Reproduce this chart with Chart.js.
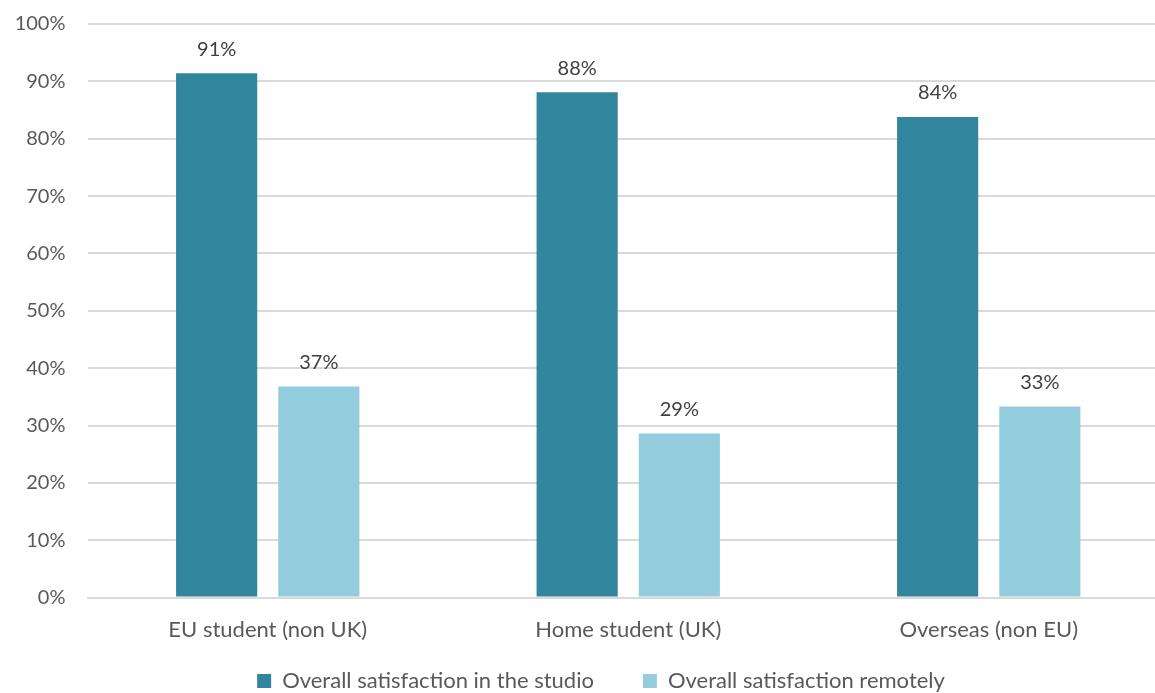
<!DOCTYPE html>
<html>
<head>
<meta charset="utf-8">
<script src="https://cdn.jsdelivr.net/npm/chart.js@4/dist/chart.umd.min.js"></script>
<style>
  html, body { margin: 0; padding: 0; background: #fff; overflow: hidden; }
  #wrap { position: relative; width: 1202px; height: 693px; }
</style>
</head>
<body>
<div id="wrap"><canvas id="myChart"></canvas></div>
<script>
const categories = ['EU student (non UK)', 'Home student (UK)', 'Overseas (non EU)'];
const studioValues = [91.4, 88.1, 83.8];
const remoteValues = [36.8, 28.6, 33.3];
const seriesNames = ['Overall satisfaction in the studio', 'Overall satisfaction remotely'];

const FONT = 'Lato, "Liberation Sans", sans-serif';
const LEGEND_GAP = 49;

// writes the rounded percentage above each bar
const barLabels = {
    id: 'barLabels',
    afterDatasetsDraw(chart) {
        const ctx = chart.ctx;
        ctx.save();
        ctx.font = '20px ' + FONT;
        ctx.fillStyle = '#404040';
        ctx.textAlign = 'center';
        ctx.textBaseline = 'bottom';
        chart.data.datasets.forEach((ds, i) => {
            chart.getDatasetMeta(i).data.forEach((bar, j) => {
                ctx.fillText(Math.round(ds.data[j]) + '%', bar.x, bar.y - 14);
            });
        });
        ctx.restore();
    }
};

// legend sits a bit right of the canvas centre and close to the bottom edge
const legendNudge = {
    id: 'legendNudge',
    afterLayout(chart) {
        const lg = chart.legend;
        lg.left += 16.5;
        lg.right += 16.5;
        lg.top = 670 - LEGEND_GAP;
        lg.bottom = chart.height;
        lg.height = lg.bottom - lg.top;
    }
};

window.onload = function() {
    const ctx = document.getElementById('myChart').getContext('2d');
    new Chart(ctx, {
        type: 'bar',
        data: {
            labels: categories,
            datasets: [{
                label: seriesNames[0],
                data: studioValues,
                backgroundColor: '#31859c',
                categoryPercentage: 0.567,
                barPercentage: 0.794
            }, {
                label: seriesNames[1],
                data: remoteValues,
                backgroundColor: '#93cddd',
                categoryPercentage: 0.567,
                barPercentage: 0.794
            }]
        },
        options: {
            responsive: true,
            maintainAspectRatio: false,
            animation: false,
            layout: { padding: { top: 24, right: 33, left: 0, bottom: 0 } },
            scales: {
                x: {
                    grid: { display: false, drawTicks: false },
                    border: { color: '#d9d9d9', width: 2 },
                    ticks: { color: '#595959', font: { family: FONT, size: 22 }, padding: 19 }
                },
                y: {
                    min: 0,
                    max: 100,
                    afterFit(scale) {
                        scale.width = 87.5;
                        scale.paddingTop = 0;
                        scale.paddingBottom = 0;
                    },
                    grid: { color: '#d9d9d9', lineWidth: 2, drawTicks: false },
                    border: { display: false },
                    ticks: {
                        stepSize: 10,
                        color: '#595959',
                        padding: 22,
                        font: { family: FONT, size: 20 },
                        callback: v => v + '%'
                    }
                }
            },
            plugins: {
                legend: {
                    position: 'bottom',
                    maxHeight: 31,
                    labels: {
                        boxWidth: 14,
                        boxHeight: 14,
                        padding: LEGEND_GAP,
                        color: '#595959',
                        font: { family: FONT, size: 22 }
                    }
                },
                tooltip: { enabled: false }
            }
        },
        plugins: [barLabels, legendNudge]
    });
};
</script>
</body>
</html>
